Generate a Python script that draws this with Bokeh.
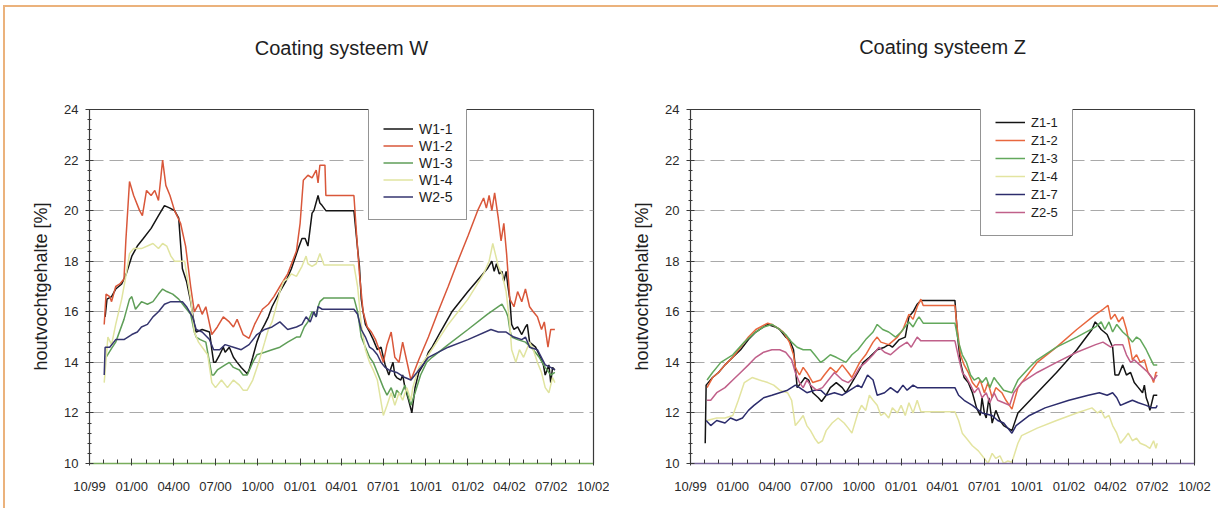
import pandas as pd
from bokeh.plotting import figure
from bokeh.layouts import row, column, Spacer
from bokeh.models import (FixedTicker, SingleIntervalTicker, DatetimeTickFormatter,
                          Range1d, Legend, LegendItem, Title)
from bokeh.embed import file_html
from bokeh.resources import INLINE

FONT = "Liberation Sans"

# ---------------- Coating systeem W ----------------
w11_dates = ["1999-11-04", "1999-11-08", "1999-11-18", "1999-11-27", "1999-12-10", "1999-12-20",
             "2000-01-01", "2000-01-13", "2000-01-26", "2000-02-12", "2000-02-28", "2000-03-12",
             "2000-03-24", "2000-04-03", "2000-04-12", "2000-04-20", "2000-04-29", "2000-05-08",
             "2000-05-16", "2000-05-20", "2000-06-02", "2000-06-18", "2000-06-23", "2000-06-27",
             "2000-07-01", "2000-07-10", "2000-07-18", "2000-07-22", "2000-07-31", "2000-08-09",
             "2000-08-17", "2000-08-26", "2000-09-08", "2000-09-12", "2000-09-20", "2000-09-29",
             "2000-10-07", "2000-10-16", "2000-10-24", "2000-11-01", "2000-11-18", "2000-12-01",
             "2000-12-13", "2000-12-28", "2001-01-05", "2001-01-12", "2001-01-18", "2001-01-27",
             "2001-01-31", "2001-02-09", "2001-02-13", "2001-02-18", "2001-02-26", "2001-04-28",
             "2001-05-06", "2001-05-10", "2001-05-14", "2001-05-18", "2001-05-23", "2001-06-01",
             "2001-06-09", "2001-06-18", "2001-06-26", "2001-07-01", "2001-07-05", "2001-07-13",
             "2001-07-18", "2001-07-22", "2001-07-26", "2001-07-30", "2001-08-08", "2001-08-12",
             "2001-08-17", "2001-08-25", "2001-09-01", "2001-09-08", "2001-09-16", "2001-09-29",
             "2001-10-07", "2001-10-15", "2001-11-02", "2001-11-27", "2002-01-01", "2002-02-12",
             "2002-02-22", "2002-02-27", "2002-03-04", "2002-03-10", "2002-03-16", "2002-03-20",
             "2002-03-25", "2002-03-29", "2002-04-02", "2002-04-06", "2002-04-11", "2002-04-19",
             "2002-04-28", "2002-05-06", "2002-05-10", "2002-05-15", "2002-05-28", "2002-06-05",
             "2002-06-14", "2002-06-18", "2002-06-26", "2002-06-30", "2002-07-04", "2002-07-09"]
w11_vals = [15.8, 16.5, 16.6, 16.9, 17.1, 17.5,
            18.2, 18.6, 18.9, 19.3, 19.8, 20.2,
            20.1, 20.0, 19.7, 17.7, 17.2, 16.4,
            15.5, 15.2, 15.3, 15.2, 14.5, 14.0,
            14.0, 14.3, 14.6, 14.4, 14.6, 14.2,
            14.0, 13.8, 13.55, 13.7, 14.2, 14.8,
            15.2, 15.5, 15.8, 16.2, 16.8, 17.2,
            17.7, 18.5, 18.9, 18.9, 18.6, 19.9,
            20.0, 20.6, 20.3, 20.2, 20.0, 20.0,
            18.5, 17.8, 16.5, 16.0, 15.5, 15.2,
            14.9, 14.5, 14.6, 14.2, 13.9, 13.5,
            13.8, 14.0, 13.5, 13.4, 13.3, 13.5,
            13.0, 12.5, 12.0, 13.0, 13.6, 14.0,
            14.4, 14.6, 15.2, 16.0, 16.8, 17.7,
            18.0, 17.6, 17.9, 17.5, 17.6, 17.2,
            17.6, 17.0, 16.5, 15.5, 15.3, 15.4,
            15.1, 15.4, 15.5, 14.8, 14.6, 14.3,
            13.9, 13.5, 13.9, 13.2, 13.8, 13.7]

w12_dates = ["1999-11-02", "1999-11-06", "1999-11-14", "1999-11-18", "1999-11-27", "1999-12-06",
             "1999-12-15", "1999-12-19", "1999-12-27", "2000-01-05", "2000-01-18", "2000-01-24",
             "2000-02-02", "2000-02-12", "2000-02-20", "2000-02-28", "2000-03-08", "2000-03-15",
             "2000-03-24", "2000-04-03", "2000-04-16", "2000-04-27", "2000-05-08", "2000-05-16",
             "2000-05-25", "2000-06-02", "2000-06-10", "2000-06-23", "2000-07-05", "2000-07-18",
             "2000-07-31", "2000-08-09", "2000-08-17", "2000-08-30", "2000-09-12", "2000-09-24",
             "2000-10-11", "2000-10-24", "2000-11-05", "2000-11-18", "2000-12-05", "2000-12-24",
             "2001-01-01", "2001-01-08", "2001-01-18", "2001-01-27", "2001-02-05", "2001-02-09",
             "2001-02-13", "2001-02-24", "2001-02-26", "2001-04-28", "2001-05-04", "2001-05-10",
             "2001-05-18", "2001-05-27", "2001-06-05", "2001-06-14", "2001-06-22", "2001-07-01",
             "2001-07-09", "2001-07-18", "2001-07-26", "2001-08-04", "2001-08-12", "2001-08-18",
             "2001-08-30", "2001-09-16", "2001-10-07", "2001-10-28", "2001-11-19", "2001-12-10",
             "2002-01-01", "2002-01-22", "2002-02-04", "2002-02-10", "2002-02-16", "2002-02-22",
             "2002-02-28", "2002-03-08", "2002-03-14", "2002-03-20", "2002-03-26", "2002-04-02",
             "2002-04-11", "2002-04-19", "2002-04-28", "2002-05-06", "2002-05-15", "2002-05-23",
             "2002-06-01", "2002-06-10", "2002-06-16", "2002-06-24", "2002-06-30", "2002-07-09"]
w12_vals = [15.5, 16.7, 16.6, 16.4, 17.0, 17.1,
            17.3, 18.8, 21.15, 20.6, 20.0, 19.8,
            20.8, 20.6, 20.8, 20.4, 22.0, 21.0,
            20.6, 20.0, 19.5, 18.6, 17.0, 16.0,
            16.3, 15.9, 16.2, 15.1, 15.4, 15.8,
            15.6, 15.4, 15.7, 15.1, 14.95, 15.5,
            16.1, 16.3, 16.6, 17.0, 17.5, 18.4,
            19.5, 21.2, 21.4, 21.3, 21.6, 21.1,
            21.8, 21.8, 20.6, 20.6, 19.0, 17.5,
            16.0, 15.4, 15.2, 14.9, 14.5, 14.0,
            14.7, 15.2, 14.2, 14.0, 14.8, 14.3,
            13.3, 14.1, 15.0, 16.0, 17.0, 18.0,
            19.0, 20.0, 20.5, 20.1, 20.6, 20.0,
            20.7, 19.7, 18.8, 19.5, 18.3, 16.5,
            16.2, 16.8, 16.4, 16.9, 16.2, 16.0,
            15.8, 15.3, 15.6, 14.6, 15.3, 15.3]

w13_dates = ["1999-11-06", "1999-11-18", "1999-11-27", "1999-12-15", "1999-12-27", "2000-01-01",
             "2000-01-09", "2000-01-22", "2000-02-04", "2000-02-16", "2000-02-28", "2000-03-08",
             "2000-03-17", "2000-03-30", "2000-04-12", "2000-04-25", "2000-05-08", "2000-05-16",
             "2000-05-20", "2000-05-29", "2000-06-10", "2000-06-23", "2000-06-27", "2000-07-05",
             "2000-07-22", "2000-07-31", "2000-08-09", "2000-08-22", "2000-08-30", "2000-09-08",
             "2000-09-20", "2000-09-29", "2000-10-16", "2000-11-01", "2000-11-18", "2000-12-05",
             "2000-12-24", "2001-01-01", "2001-01-10", "2001-01-18", "2001-01-27", "2001-02-05",
             "2001-02-09", "2001-02-13", "2001-02-22", "2001-04-28", "2001-05-06", "2001-05-14",
             "2001-05-23", "2001-06-01", "2001-06-09", "2001-06-18", "2001-07-01", "2001-07-09",
             "2001-07-18", "2001-07-26", "2001-07-30", "2001-08-08", "2001-08-17", "2001-08-25",
             "2001-08-30", "2001-09-08", "2001-09-20", "2001-10-03", "2001-10-15", "2001-11-19",
             "2002-01-01", "2002-02-12", "2002-03-08", "2002-03-16", "2002-03-25", "2002-03-29",
             "2002-04-02", "2002-04-06", "2002-04-19", "2002-05-06", "2002-05-23", "2002-06-05",
             "2002-06-18", "2002-06-30", "2002-07-09"]
w13_vals = [14.2, 14.55, 14.8, 15.7, 16.5, 16.6,
            16.1, 16.4, 16.3, 16.4, 16.7, 16.9,
            16.8, 16.7, 16.5, 16.2, 15.9, 15.2,
            15.0, 14.9, 14.8, 13.5, 13.5, 13.7,
            13.9, 14.0, 13.8, 13.7, 13.5, 13.5,
            14.0, 14.3, 14.4, 14.5, 14.6, 14.8,
            15.0, 15.0, 15.4, 15.6, 16.0, 15.8,
            16.2, 16.4, 16.55, 16.55, 16.0, 15.0,
            14.6, 14.2, 14.0, 13.6, 13.0, 12.7,
            13.0, 12.6, 12.9, 12.7, 13.1, 12.6,
            12.3, 12.8, 13.5, 14.0, 14.2, 14.7,
            15.3, 15.9, 16.2, 16.3, 16.0, 15.8,
            15.3, 15.0, 14.9, 14.8, 14.5, 14.2,
            13.8, 13.5, 13.6]

w14_dates = ["1999-11-02", "1999-11-10", "1999-11-18", "1999-11-27", "1999-12-10", "1999-12-19",
             "1999-12-27", "2000-01-05", "2000-01-22", "2000-02-16", "2000-02-28", "2000-03-08",
             "2000-03-17", "2000-03-26", "2000-04-03", "2000-04-25", "2000-04-29", "2000-05-08",
             "2000-05-16", "2000-05-25", "2000-06-02", "2000-06-14", "2000-06-23", "2000-07-01",
             "2000-07-14", "2000-07-27", "2000-08-09", "2000-08-22", "2000-08-30", "2000-09-08",
             "2000-09-20", "2000-10-03", "2000-10-16", "2000-10-24", "2000-11-01", "2000-11-10",
             "2000-11-18", "2000-11-26", "2000-12-05", "2000-12-13", "2000-12-24", "2001-01-05",
             "2001-01-14", "2001-01-18", "2001-01-27", "2001-02-05", "2001-02-13", "2001-02-22",
             "2001-04-28", "2001-05-06", "2001-05-14", "2001-05-23", "2001-06-01", "2001-06-09",
             "2001-06-18", "2001-07-01", "2001-07-09", "2001-07-18", "2001-07-26", "2001-08-04",
             "2001-08-12", "2001-08-21", "2001-08-30", "2001-09-03", "2001-09-16", "2001-10-07",
             "2001-11-19", "2002-01-01", "2002-02-04", "2002-02-16", "2002-02-24", "2002-02-28",
             "2002-03-08", "2002-03-16", "2002-03-25", "2002-04-02", "2002-04-06", "2002-04-15",
             "2002-04-23", "2002-05-02", "2002-05-15", "2002-05-23", "2002-06-01", "2002-06-10",
             "2002-06-18", "2002-06-26", "2002-07-04", "2002-07-09"]
w14_vals = [13.2, 15.0, 14.7, 15.5, 16.5, 17.4,
            18.3, 18.5, 18.5, 18.7, 18.5, 18.7,
            18.6, 18.2, 18.0, 18.0, 17.5, 16.5,
            15.2, 14.8, 14.6, 14.3, 13.2, 13.0,
            13.3, 13.0, 13.3, 13.1, 12.9, 12.9,
            13.3, 14.0, 14.8, 15.3, 15.6, 16.2,
            16.8, 17.2, 17.3, 17.5, 17.4, 17.8,
            18.2, 17.9, 17.8, 17.9, 18.3, 17.85,
            17.85, 17.0, 15.5, 14.5, 14.0, 13.7,
            13.3, 11.9, 12.3, 12.8, 12.3, 12.8,
            12.5, 13.0, 12.5, 13.0, 13.8, 14.3,
            15.5, 16.5, 17.5, 18.0, 18.7, 18.4,
            17.8, 17.5, 16.8, 15.5, 14.5, 14.0,
            14.5, 14.2, 14.8, 14.5, 14.0, 13.6,
            13.0, 12.8, 13.4, 13.2]

w25_dates = ["1999-11-02", "1999-11-04", "1999-11-14", "1999-11-27", "1999-12-15", "2000-01-01",
             "2000-01-13", "2000-01-22", "2000-02-04", "2000-02-16", "2000-02-28", "2000-03-12",
             "2000-03-26", "2000-04-20", "2000-04-29", "2000-05-12", "2000-05-20", "2000-06-02",
             "2000-06-18", "2000-06-27", "2000-07-10", "2000-07-22", "2000-08-09", "2000-08-26",
             "2000-09-12", "2000-09-29", "2000-10-16", "2000-11-01", "2000-11-18", "2000-12-05",
             "2000-12-24", "2001-01-05", "2001-01-14", "2001-01-23", "2001-01-31", "2001-02-05",
             "2001-02-09", "2001-02-18", "2001-04-28", "2001-05-06", "2001-05-14", "2001-05-23",
             "2001-06-01", "2001-06-09", "2001-06-18", "2001-06-26", "2001-07-05", "2001-07-13",
             "2001-07-30", "2001-08-17", "2001-08-30", "2001-09-12", "2001-09-29", "2001-10-07",
             "2001-11-19", "2002-01-01", "2002-02-20", "2002-03-08", "2002-03-25", "2002-04-02",
             "2002-04-11", "2002-04-28", "2002-05-06", "2002-05-15", "2002-06-01", "2002-06-18",
             "2002-06-30", "2002-07-09"]
w25_vals = [13.5, 14.6, 14.6, 14.9, 14.9, 15.1,
            15.2, 15.4, 15.5, 15.8, 16.0, 16.3,
            16.4, 16.4, 16.2, 15.8, 15.3, 15.2,
            14.9, 14.5, 14.5, 14.7, 14.6, 14.5,
            14.7, 15.1, 15.3, 15.4, 15.6, 15.3,
            15.4, 15.5, 15.8, 15.6, 16.0, 15.8,
            16.2, 16.1, 16.1, 15.9, 15.3, 15.0,
            14.6, 14.5, 14.3, 14.0, 13.8, 13.7,
            13.6, 13.4, 13.3, 13.6, 14.0, 14.2,
            14.6, 14.9, 15.3, 15.2, 15.2, 15.1,
            15.0, 14.9, 15.0, 14.6, 14.5, 13.9,
            13.8, 13.7]

# ---------------- Coating systeem Z ----------------
z11_dates = ["1999-11-02", "1999-11-04", "1999-11-18", "1999-12-01", "1999-12-15", "2000-01-01",
             "2000-01-18", "2000-02-04", "2000-02-20", "2000-03-08", "2000-03-17", "2000-04-03",
             "2000-04-12", "2000-04-25", "2000-05-03", "2000-05-12", "2000-05-16", "2000-05-20",
             "2000-05-29", "2000-06-06", "2000-06-14", "2000-06-23", "2000-07-05", "2000-07-12",
             "2000-07-22", "2000-07-31", "2000-08-13", "2000-08-26", "2000-09-03", "2000-09-16",
             "2000-09-29", "2000-10-11", "2000-10-24", "2000-11-10", "2000-11-26", "2000-12-05",
             "2000-12-13", "2000-12-28", "2001-01-10", "2001-01-18", "2001-01-27", "2001-02-05",
             "2001-02-13", "2001-04-28", "2001-05-04", "2001-05-10", "2001-05-18", "2001-05-27",
             "2001-06-05", "2001-06-14", "2001-06-22", "2001-06-26", "2001-07-01", "2001-07-05",
             "2001-07-11", "2001-07-18", "2001-07-26", "2001-08-04", "2001-08-12", "2001-08-21",
             "2001-08-30", "2001-09-12", "2001-10-24", "2001-12-05", "2002-01-18", "2002-02-20",
             "2002-02-27", "2002-03-04", "2002-03-12", "2002-03-25", "2002-04-06", "2002-04-11",
             "2002-04-19", "2002-04-28", "2002-05-06", "2002-05-15", "2002-05-23", "2002-06-01",
             "2002-06-10", "2002-06-14", "2002-06-18", "2002-06-22", "2002-06-26", "2002-06-30",
             "2002-07-04", "2002-07-12"]
z11_vals = [10.8, 13.1, 13.4, 13.6, 13.9, 14.2,
            14.5, 14.9, 15.2, 15.4, 15.5, 15.4,
            15.3, 15.0, 14.9, 14.5, 13.8, 13.0,
            13.2, 13.4, 13.3, 12.8, 12.6, 12.45,
            12.7, 13.0, 13.2, 13.0, 12.8, 13.2,
            13.6, 14.0, 14.2, 14.5, 14.6, 14.7,
            14.6, 14.9, 15.0, 15.8, 16.0, 16.3,
            16.45, 16.45, 15.0, 14.0, 13.4, 13.2,
            12.8, 12.2, 11.9, 12.6, 12.0, 11.8,
            12.6, 11.6, 12.1, 11.7, 11.5, 11.4,
            11.3, 12.0, 12.8, 13.6, 14.5, 15.3,
            15.6, 15.5, 15.3, 15.1, 14.6, 13.5,
            13.5, 13.9, 13.5, 13.6, 13.2, 13.0,
            12.8, 13.1, 12.6, 12.4, 12.1, 12.4,
            12.7, 12.7]

z12_dates = ["1999-11-06", "1999-11-18", "1999-12-01", "1999-12-15", "2000-01-01", "2000-01-18",
             "2000-02-04", "2000-02-20", "2000-03-17", "2000-03-26", "2000-04-12", "2000-04-20",
             "2000-05-03", "2000-05-12", "2000-05-16", "2000-05-25", "2000-06-02", "2000-06-10",
             "2000-06-23", "2000-07-10", "2000-07-18", "2000-07-31", "2000-08-13", "2000-08-26",
             "2000-09-08", "2000-09-16", "2000-10-03", "2000-10-16", "2000-11-01", "2000-11-10",
             "2000-11-18", "2000-12-05", "2000-12-24", "2001-01-05", "2001-01-18", "2001-01-27",
             "2001-02-05", "2001-02-13", "2001-02-18", "2001-04-28", "2001-05-02", "2001-05-10",
             "2001-05-18", "2001-05-27", "2001-06-05", "2001-06-14", "2001-06-22", "2001-07-01",
             "2001-07-09", "2001-07-18", "2001-07-26", "2001-08-08", "2001-08-17", "2001-08-30",
             "2001-09-12", "2001-10-07", "2001-10-24", "2001-12-05", "2002-01-18", "2002-02-28",
             "2002-03-16", "2002-03-27", "2002-04-02", "2002-04-11", "2002-04-19", "2002-04-28",
             "2002-05-06", "2002-05-15", "2002-05-19", "2002-05-28", "2002-06-05", "2002-06-14",
             "2002-06-22", "2002-06-30", "2002-07-04", "2002-07-09", "2002-07-12"]
z12_vals = [13.0, 13.4, 13.6, 13.9, 14.2, 14.6,
            15.0, 15.3, 15.55, 15.5, 15.3, 15.2,
            14.8, 14.3, 13.8, 13.5, 13.8, 13.6,
            13.2, 13.3, 13.5, 13.8, 13.6, 13.9,
            13.6, 13.4, 14.0, 14.3, 14.8, 15.0,
            14.8, 14.7, 15.0, 15.3, 15.9, 15.7,
            16.2, 16.5, 16.25, 16.25, 15.5, 14.3,
            13.9, 13.6, 13.2, 13.0, 13.3, 12.8,
            13.2, 12.6, 13.0, 12.8, 12.5, 12.15,
            13.0, 13.6, 14.0, 14.6, 15.3, 15.9,
            16.1, 16.25, 15.7, 15.9, 15.6, 15.8,
            15.3, 14.5, 14.1, 14.3, 14.0, 14.1,
            13.6, 13.4, 13.2, 13.6, 13.6]

z13_dates = ["1999-11-06", "1999-11-18", "1999-12-06", "2000-01-01", "2000-01-26", "2000-02-20",
             "2000-03-08", "2000-03-26", "2000-04-12", "2000-04-25", "2000-05-08", "2000-05-20",
             "2000-06-02", "2000-06-18", "2000-06-27", "2000-07-10", "2000-07-18", "2000-07-31",
             "2000-08-13", "2000-09-03", "2000-09-16", "2000-09-29", "2000-10-16", "2000-11-01",
             "2000-11-10", "2000-11-22", "2000-12-05", "2000-12-20", "2001-01-01", "2001-01-18",
             "2001-01-27", "2001-02-05", "2001-02-09", "2001-02-18", "2001-04-28", "2001-05-06",
             "2001-05-14", "2001-05-23", "2001-06-01", "2001-06-09", "2001-06-18", "2001-06-26",
             "2001-07-05", "2001-07-13", "2001-07-22", "2001-07-30", "2001-08-12", "2001-08-30",
             "2001-09-12", "2001-10-07", "2001-10-24", "2001-12-05", "2002-01-18", "2002-02-28",
             "2002-03-12", "2002-03-20", "2002-03-29", "2002-04-06", "2002-04-15", "2002-04-28",
             "2002-05-10", "2002-05-19", "2002-05-28", "2002-06-05", "2002-06-18", "2002-06-26",
             "2002-07-04", "2002-07-12"]
z13_vals = [13.3, 13.6, 14.0, 14.3, 14.8, 15.2,
            15.4, 15.5, 15.3, 15.1, 14.8, 14.6,
            14.5, 14.5, 14.3, 14.0, 14.1, 14.3,
            14.2, 14.0, 14.3, 14.5, 14.9, 15.2,
            15.5, 15.3, 15.2, 15.0, 15.2, 15.6,
            15.4, 15.7, 15.8, 15.55, 15.55, 14.8,
            14.3, 14.0, 13.5, 13.3, 13.4, 13.2,
            13.4, 13.0, 13.4, 13.2, 12.9, 12.8,
            13.3, 13.8, 14.1, 14.6, 15.0, 15.4,
            15.6, 15.3, 15.6, 15.2, 15.5, 15.2,
            15.0, 14.8, 15.0, 14.9, 14.5, 14.2,
            13.9, 13.9]

z14_dates = ["1999-11-06", "1999-11-27", "1999-12-15", "2000-01-01", "2000-01-13", "2000-01-26",
             "2000-02-12", "2000-02-28", "2000-03-17", "2000-03-30", "2000-04-12", "2000-04-29",
             "2000-05-08", "2000-05-16", "2000-05-25", "2000-06-02", "2000-06-10", "2000-06-18",
             "2000-06-27", "2000-07-05", "2000-07-14", "2000-07-22", "2000-08-04", "2000-08-17",
             "2000-08-30", "2000-09-08", "2000-09-16", "2000-09-29", "2000-10-07", "2000-10-16",
             "2000-10-24", "2000-11-01", "2000-11-10", "2000-11-18", "2000-11-26", "2000-12-05",
             "2000-12-13", "2000-12-24", "2001-01-01", "2001-01-10", "2001-01-18", "2001-01-27",
             "2001-02-05", "2001-02-13", "2001-04-28", "2001-05-06", "2001-05-14", "2001-05-23",
             "2001-06-05", "2001-06-18", "2001-07-01", "2001-07-09", "2001-07-18", "2001-07-26",
             "2001-08-04", "2001-08-12", "2001-08-21", "2001-08-30", "2001-09-12", "2001-09-20",
             "2001-10-24", "2001-12-05", "2002-01-18", "2002-02-20", "2002-03-04", "2002-03-12",
             "2002-03-20", "2002-03-29", "2002-04-06", "2002-04-15", "2002-04-23", "2002-05-02",
             "2002-05-10", "2002-05-19", "2002-05-28", "2002-06-05", "2002-06-18", "2002-06-26",
             "2002-07-04", "2002-07-09", "2002-07-12"]
z14_vals = [11.7, 11.8, 11.8, 11.9, 12.5, 13.2,
            13.4, 13.3, 13.2, 13.1, 12.9, 12.8,
            12.5, 11.5, 11.7, 11.9, 11.5, 11.3,
            11.0, 10.8, 10.9, 11.3, 11.6, 11.8,
            11.6, 11.4, 11.2, 12.0, 12.3, 12.1,
            12.7, 12.5, 12.3, 11.9, 12.0, 11.8,
            12.2, 12.0, 12.3, 11.9, 12.4, 12.0,
            12.5, 12.05, 12.05, 11.7, 11.2, 11.0,
            10.7, 10.5, 10.2, 10.0, 10.4, 10.2,
            10.3, 10.0, 10.1, 10.05, 10.8, 11.1,
            11.4, 11.7, 12.0, 12.2, 12.0, 12.1,
            11.8, 11.9, 11.5, 11.2, 10.8, 11.0,
            11.2, 10.9, 11.0, 10.8, 10.7, 10.6,
            10.9, 10.6, 10.8]

z17_dates = ["1999-11-04", "1999-11-14", "1999-11-27", "1999-12-15", "1999-12-27", "2000-01-09",
             "2000-01-22", "2000-02-04", "2000-02-16", "2000-03-08", "2000-03-26", "2000-04-12",
             "2000-04-29", "2000-05-16", "2000-05-25", "2000-06-10", "2000-06-27", "2000-07-10",
             "2000-07-22", "2000-08-09", "2000-08-26", "2000-09-12", "2000-09-29", "2000-10-07",
             "2000-10-20", "2000-11-01", "2000-11-10", "2000-11-26", "2000-12-09", "2000-12-24",
             "2001-01-05", "2001-01-14", "2001-01-27", "2001-02-05", "2001-04-28", "2001-05-06",
             "2001-05-18", "2001-06-05", "2001-06-26", "2001-07-18", "2001-07-30", "2001-08-12",
             "2001-08-21", "2001-08-30", "2001-09-08", "2001-10-07", "2001-11-10", "2002-01-01",
             "2002-02-12", "2002-03-08", "2002-03-25", "2002-04-06", "2002-04-15", "2002-04-23",
             "2002-05-06", "2002-05-19", "2002-06-01", "2002-06-18", "2002-06-30", "2002-07-09",
             "2002-07-12"]
z17_vals = [11.7, 11.5, 11.7, 11.6, 11.8, 11.7,
            11.8, 12.1, 12.3, 12.6, 12.7, 12.8,
            12.9, 13.1, 13.0, 12.8, 12.9, 12.9,
            12.7, 12.8, 12.7, 12.9, 13.1, 13.0,
            13.5, 13.3, 12.7, 12.8, 13.0, 12.8,
            13.1, 12.9, 13.1, 13.0, 13.0, 12.7,
            12.5, 12.3, 12.0, 11.9, 11.7, 11.6,
            11.4, 11.2, 11.5, 11.9, 12.2, 12.5,
            12.7, 12.8, 12.7, 12.8, 12.6, 12.3,
            12.4, 12.5, 12.4, 12.3, 12.2, 12.2,
            12.3]

z25_dates = ["1999-11-06", "1999-11-14", "1999-11-27", "1999-12-15", "2000-01-01", "2000-01-18",
             "2000-02-04", "2000-02-20", "2000-03-08", "2000-03-26", "2000-04-12", "2000-04-25",
             "2000-05-08", "2000-05-16", "2000-05-25", "2000-06-02", "2000-06-10", "2000-06-18",
             "2000-07-01", "2000-07-14", "2000-07-27", "2000-08-09", "2000-08-26", "2000-09-08",
             "2000-09-20", "2000-10-03", "2000-10-16", "2000-11-01", "2000-11-14", "2000-11-26",
             "2000-12-09", "2000-12-28", "2001-01-14", "2001-01-23", "2001-02-05", "2001-02-13",
             "2001-04-28", "2001-05-06", "2001-05-14", "2001-05-23", "2001-06-01", "2001-06-09",
             "2001-06-18", "2001-06-26", "2001-07-05", "2001-07-13", "2001-07-22", "2001-07-30",
             "2001-08-12", "2001-08-25", "2001-09-03", "2001-09-20", "2001-10-24", "2001-12-05",
             "2002-01-18", "2002-02-28", "2002-03-16", "2002-04-02", "2002-04-11", "2002-04-28",
             "2002-05-06", "2002-05-15", "2002-05-23", "2002-06-10", "2002-06-22", "2002-07-04",
             "2002-07-12"]
z25_vals = [12.5, 12.5, 12.8, 13.0, 13.3, 13.6,
            13.9, 14.2, 14.4, 14.5, 14.5, 14.4,
            14.1, 13.6, 13.2, 13.0, 13.3, 13.1,
            12.9, 13.0, 13.3, 13.6, 13.3, 13.2,
            13.4, 13.8, 14.0, 14.3, 14.6, 14.4,
            14.3, 14.6, 14.8, 14.6, 15.0, 14.85,
            14.85, 14.2, 13.6, 13.4, 13.1, 12.8,
            13.0, 12.6, 12.8, 12.4, 12.8, 12.5,
            12.4, 12.3, 12.8, 13.2, 13.6, 14.0,
            14.4, 14.7, 14.8, 14.6, 14.7, 14.7,
            14.3, 14.0, 14.1, 13.8, 13.6, 13.3,
            13.5]

w_labels = ["W1-1", "W1-2", "W1-3", "W1-4", "W2-5"]
w_series = [(w11_dates, w11_vals), (w12_dates, w12_vals), (w13_dates, w13_vals),
            (w14_dates, w14_vals), (w25_dates, w25_vals)]
w_colors = ["#141414", "#d9573a", "#5f9e58", "#e0e4a0", "#35356f"]

z_labels = ["Z1-1", "Z1-2", "Z1-3", "Z1-4", "Z1-7", "Z2-5"]
z_series = [(z11_dates, z11_vals), (z12_dates, z12_vals), (z13_dates, z13_vals),
            (z14_dates, z14_vals), (z17_dates, z17_vals), (z25_dates, z25_vals)]
z_colors = ["#141414", "#e8673e", "#63a85c", "#e3e4a0", "#2c2c6c", "#c0608a"]

x_start, x_end = "1999-10-01", "2002-10-01"
y_start, y_end = 10, 24

FRAME = "#ebb27c"
FIG_H = 501


def to_ms(idx):
    return [t.timestamp() * 1000.0 for t in idx]


def make_panel(title, labels, series, colors, width, left, right, top, bottom,
               title_gap, leg_loc, leg_row, leg_font, base_color):
    p = figure(width=width, height=FIG_H, x_axis_type="datetime",
               output_backend="svg", toolbar_location=None,
               x_range=Range1d(pd.Timestamp(x_start), pd.Timestamp(x_end)),
               y_range=Range1d(y_start, y_end),
               min_border_left=left, min_border_right=right,
               min_border_top=top, min_border_bottom=bottom)
    p.background_fill_color = "white"
    p.border_fill_color = "white"
    p.outline_line_color = "#3a3a3a"
    p.outline_line_width = 1.2

    # title: a blank spacer title next to the frame pushes the real one upwards
    p.title.text = ""
    p.add_layout(Title(text=" ", text_font_size="2px", standoff=title_gap), "above")
    p.add_layout(Title(text=title, align="center", text_font=FONT, text_font_size="20px",
                       text_font_style="normal", text_color="#1e1e1e", standoff=0), "above")

    majors = pd.date_range(x_start, x_end, freq="3MS")
    minors = pd.date_range(x_start, x_end, freq="MS")
    p.xaxis.ticker = FixedTicker(ticks=to_ms(majors), minor_ticks=to_ms(minors))
    p.xaxis.formatter = DatetimeTickFormatter(months="%m/%y", days="%m/%y", years="%m/%y",
                                              hours="%m/%y", minutes="%m/%y")
    p.yaxis.ticker = SingleIntervalTicker(interval=2, num_minor_ticks=5)
    p.ygrid.ticker = SingleIntervalTicker(interval=2)
    p.xgrid.visible = False
    p.ygrid.grid_line_color = "#a9a9a9"
    p.ygrid.grid_line_dash = "14 6"
    p.ygrid.grid_line_width = 1

    for ax in (p.xaxis, p.yaxis):
        ax.major_label_text_font = FONT
        ax.major_label_text_font_size = "13px"
        ax.major_label_text_color = "#2a2a2a"
        ax.axis_line_color = "#3a3a3a"
        ax.major_tick_line_color = "#3a3a3a"
        ax.minor_tick_line_color = "#3a3a3a"
    p.xaxis.axis_line_color = base_color
    p.xaxis.axis_line_width = 1.5
    p.xaxis.major_tick_in = 5
    p.xaxis.major_tick_out = 2
    p.xaxis.minor_tick_in = 4
    p.xaxis.minor_tick_out = 0
    p.xaxis.major_label_standoff = 13
    p.yaxis.major_tick_in = 4
    p.yaxis.major_tick_out = 4
    p.yaxis.minor_tick_in = 2
    p.yaxis.minor_tick_out = 2
    p.yaxis.major_label_standoff = 7
    p.yaxis.axis_label = "houtvochtgehalte [%]"
    p.yaxis.axis_label_text_font = FONT
    p.yaxis.axis_label_text_font_size = "18px"
    p.yaxis.axis_label_text_font_style = "normal"
    p.yaxis.axis_label_text_color = "#1e1e1e"
    p.yaxis.axis_label_standoff = 10

    items = []
    for lab, (d, v), c in zip(labels, series, colors):
        r = p.line(pd.to_datetime(d), v, line_color=c, line_width=1.5)
        items.append(LegendItem(label=lab, renderers=[r]))

    leg = Legend(items=items, location=leg_loc)
    leg.label_text_font = FONT
    leg.label_text_font_size = leg_font
    leg.label_text_color = "#1e1e1e"
    leg.glyph_width = 30
    leg.glyph_height = leg_row
    leg.label_height = leg_row
    leg.label_width = 20
    leg.label_standoff = 6
    leg.spacing = 0
    leg.padding = 14
    leg.margin = 0
    leg.border_line_color = "#2a2a2a"
    leg.border_line_width = 1
    leg.background_fill_color = "white"
    leg.background_fill_alpha = 1.0
    p.add_layout(leg)
    return p


p1 = make_panel("Coating systeem W", w_labels, w_series, w_colors, 604, 84, 16, 102, 43,
                47, (279, 243), 17, "14px", "#78ad5c")
p2 = make_panel("Coating systeem Z", z_labels, z_series, z_colors, 609, 81, 24, 100, 45,
                48, (290, 227), 18, "13px", "#7a679c")

top_gap = Spacer(width=1218, height=5)
top_line = row(Spacer(width=3, height=2),
               Spacer(width=1215, height=2, styles={"background-color": FRAME}))
body = row(Spacer(width=3, height=FIG_H),
           Spacer(width=2, height=FIG_H, styles={"background-color": FRAME}),
           p1, p2)
layout = column(top_gap, top_line, body)

open("out.html", "w").write(file_html(layout, INLINE))
